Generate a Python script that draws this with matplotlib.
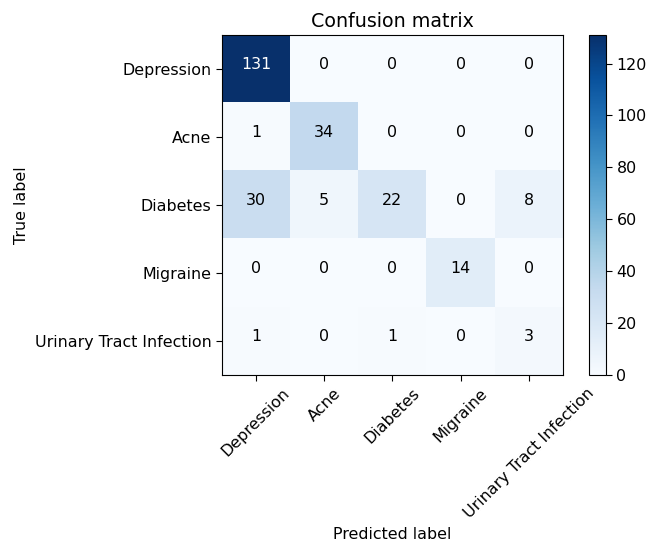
import numpy as np
import matplotlib
matplotlib.use('Agg')
import matplotlib.pyplot as plt

classes = ['Depression', 'Acne', 'Diabetes', 'Migraine', 'Urinary Tract Infection']
cm = np.array([[131, 0, 0, 0, 0],
               [1, 34, 0, 0, 0],
               [30, 5, 22, 0, 8],
               [0, 0, 0, 14, 0],
               [1, 0, 1, 0, 3]])

plt.rcParams['font.size'] = 11.4
plt.rcParams['xtick.major.size'] = 4
plt.rcParams['ytick.major.size'] = 4

fig = plt.figure(figsize=(6.48, 5.47), dpi=100)
ax = fig.add_axes([0.3426, 0.3144, 0.5262, 0.6216])
cax = fig.add_axes([0.909, 0.3144, 0.0262, 0.6216])

im = ax.imshow(cm, interpolation='nearest', cmap=plt.cm.Blues, aspect='auto')
ax.set_title('Confusion matrix', fontsize=13.7)
fig.colorbar(im, cax=cax)

tick_marks = np.arange(len(classes))
ax.set_xticks(tick_marks)
ax.set_xticklabels(classes, rotation=45)
ax.set_yticks(tick_marks)
ax.set_yticklabels(classes)

thresh = cm.max() / 2.
for i in range(cm.shape[0]):
    for j in range(cm.shape[1]):
        ax.text(j, i, cm[i, j], horizontalalignment='center',
                color='white' if cm[i, j] > thresh else 'black')

ax.set_ylabel('True label')
ax.set_xlabel('Predicted label')

fig.savefig('out.png', dpi=100)
